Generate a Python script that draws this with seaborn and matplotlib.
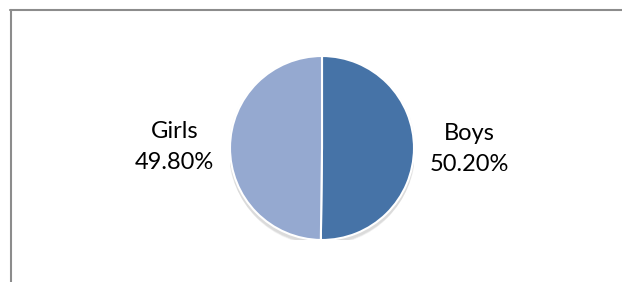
import matplotlib
matplotlib.use("Agg")
import matplotlib.pyplot as plt
import seaborn as sns
from matplotlib.patches import Circle
from matplotlib.lines import Line2D

# data
labels = ['Boys', 'Girls']
shares = [50.20, 49.80]
colors = ['#4673A7', '#95A9D0']

sns.set_theme(style="white")
plt.rcParams['font.family'] = ['Lato', 'DejaVu Sans']

W, H = 622, 282
fig = plt.figure(figsize=(W / 100, H / 100), dpi=100)
fig.patch.set_facecolor('white')

# chart frame (top and left edges visible)
fig.add_artist(Line2D([10 / W, 1], [1 - 9.5 / H] * 2, transform=fig.transFigure,
                      color='#8c8c8c', lw=1.5))
fig.add_artist(Line2D([10.5 / W] * 2, [0, 1 - 9.5 / H], transform=fig.transFigure,
                      color='#8c8c8c', lw=1.5))

cx, cy, r = 322, 148, 92
ax = fig.add_axes([(cx - r) / W, (H - cy - r) / H, 2 * r / W, 2 * r / H])
ax.axis('off')

# soft drop shadow under the pie
for i in range(6):
    ax.add_patch(Circle((0, -0.02 - 0.008 * i), 1.0 + 0.004 * (5 - i),
                        color='black', alpha=0.025, lw=0, zorder=0))

texts = [f"{l}\n{s:.2f}%" for l, s in zip(labels, shares)]
ax.pie(shares, labels=texts, colors=colors, startangle=90, counterclock=False,
       radius=1.0, labeldistance=1.6,
       wedgeprops=dict(edgecolor='white', linewidth=1.5),
       textprops=dict(fontsize=17, ha='center', va='center', color='black',
                      linespacing=1.55))
ax.set_xlim(-1, 1)
ax.set_ylim(-1, 1)
ax.set_aspect('equal')

fig.savefig('out.png', dpi=100)
